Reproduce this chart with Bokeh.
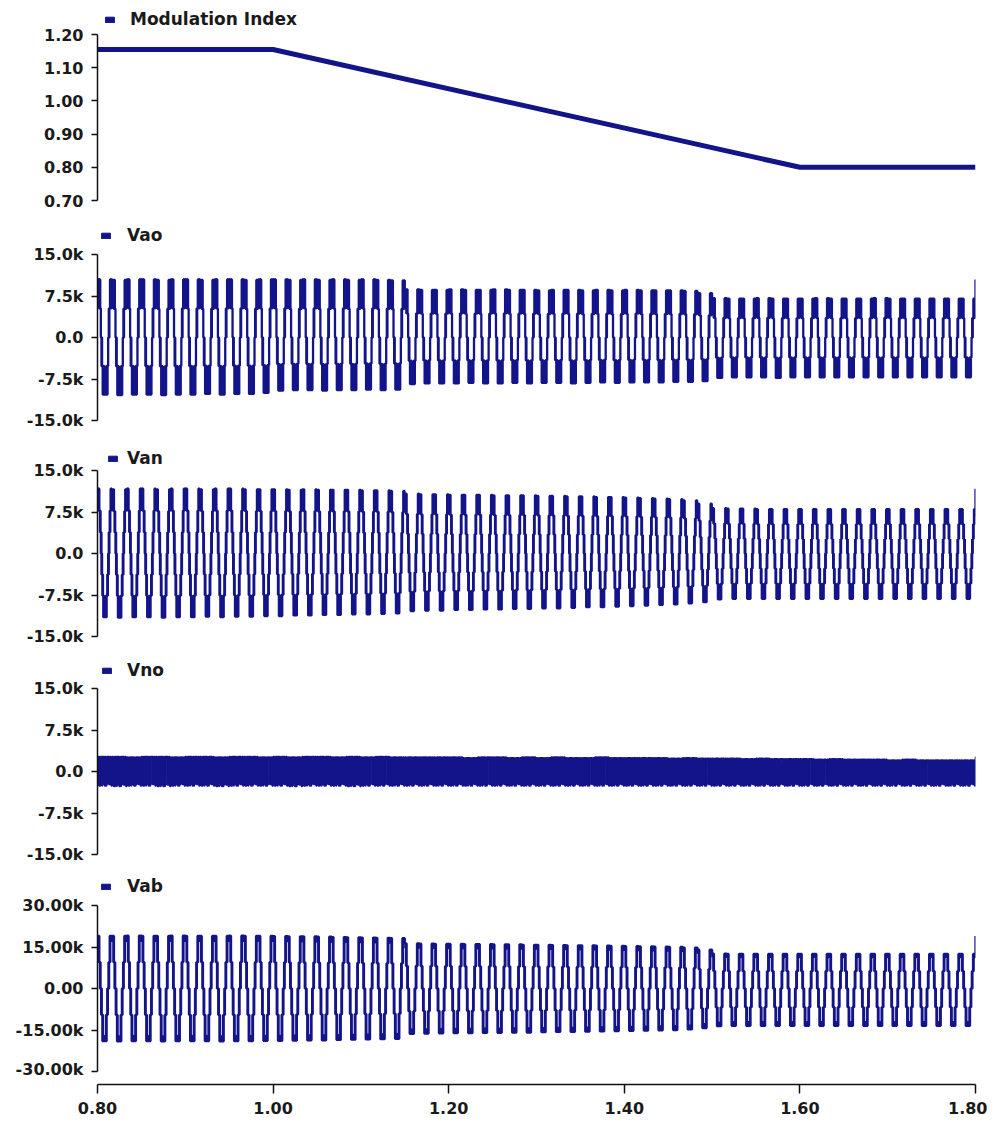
import numpy as np
from bokeh.plotting import figure
from bokeh.layouts import column
from bokeh.models import Range1d, FixedTicker, NumeralTickFormatter, Legend, LegendItem
from bokeh.embed import file_html
from bokeh.resources import INLINE

# ---------------- data ----------------
T_START, T_END = 0.80, 1.80
FREQ_HZ = 60
N_CYCLES = 60

# Modulation index: breakpoints of the trace
mi_t = [0.80, 1.00, 1.60, 1.80]
mi_v = [1.155, 1.155, 0.800, 0.800]

# one fundamental cycle of each waveform (48 switching intervals), normalised,
# starting at the positive peak
vao_shape = [1.0, 0.9, 1.0, 1.0, 1.0, 0.5, 1.0, 0.5, 1.0, 0.5, 0.5, 0.0,
             0.0, -0.5, 0.0, -0.5, -0.5, -1.0, -0.5, -1.0, -1.0, -0.5, -1.0, -1.0,
             -1.0, -0.9, -1.0, -1.0, -1.0, -0.5, -1.0, -0.5, -1.0, -0.5, -0.5, 0.0,
             0.0, 0.5, 0.0, 0.5, 0.5, 1.0, 0.5, 1.0, 1.0, 0.5, 1.0, 1.0]
van_shape = [1.0, 1.0, 0.85, 1.0, 0.66, 1.0, 0.66, 0.66, 0.33, 0.66, 0.33, 0.0,
             0.33, -0.33, 0.0, -0.33, -0.66, -0.33, -0.66, -1.0, -0.66, -1.0, -1.0, -0.85,
             -1.0, -1.0, -0.85, -1.0, -0.66, -1.0, -0.66, -0.66, -0.33, -0.66, -0.33, 0.0,
             -0.33, 0.33, 0.0, 0.33, 0.66, 0.33, 0.66, 1.0, 0.66, 1.0, 1.0, 0.85]
vab_shape = [1.0, 1.0, 0.9, 1.0, 0.5, 1.0, 0.5, 0.5, 0.0, 0.5, 0.0, 0.0,
             -0.5, 0.0, -0.5, -0.5, -1.0, -0.5, -1.0, -1.0, -1.0, -0.9, -1.0, -1.0,
             -1.0, -1.0, -0.9, -1.0, -0.5, -1.0, -0.5, -0.5, 0.0, -0.5, 0.0, 0.0,
             0.5, 0.0, 0.5, 0.5, 1.0, 0.5, 1.0, 1.0, 1.0, 0.9, 1.0, 1.0]
vno_shape = [1.0, -0.9, 1.0, -0.95, 0.9, -1.0, 1.0, -1.0, 0.95, -1.0, 1.0, -0.85,
             1.0, -0.9, 1.0, -1.0, 1.0, -0.85, 1.0, -0.9, 1.0, -0.9, 1.0, -1.0,
             0.9, -1.0, 1.0, -0.9, 0.9, -1.0, 1.0, -0.9, 1.0, 1.0, 1.0, 1.0,
             1.0, -0.9, 1.0, -0.9, 0.95, -0.9, 1.0, -0.9, 1.0, -1.0, 0.9, -1.0]

# per-cycle positive / negative peaks (kV), 60 cycles from 0.80 s to 1.80 s
vao_pos = [10.5, 10.4, 10.5, 10.5, 10.4, 10.5, 10.5, 10.4, 10.5, 10.5, 10.4, 10.5,
           10.5, 10.4, 10.5, 10.4, 10.5, 10.4, 10.5, 10.4, 10.3, 8.7, 8.6, 8.6,
           8.7, 8.6, 8.6, 8.7, 8.6, 8.6, 8.5, 8.6, 8.6, 8.5, 8.6, 8.5, 8.6, 8.5,
           8.5, 8.5, 8.4, 8.0, 7.1, 7.0, 7.0, 7.1, 7.0, 7.0, 7.0, 7.1, 7.0, 7.0,
           7.0, 7.1, 7.0, 7.0, 7.0, 7.0, 7.0, 7.0]
vao_neg = [-10.3, -10.4, -10.3, -10.3, -10.4, -10.3, -10.3, -10.2, -10.3, -10.2, -10.2, -10.0,
           -9.6, -9.5, -9.5, -9.6, -9.5, -9.5, -9.4, -9.5, -9.4, -8.4, -8.3, -8.3,
           -8.3, -8.2, -8.3, -8.3, -8.2, -8.3, -8.2, -8.2, -8.3, -8.2, -8.1, -8.2, -8.1, -8.1,
           -8.1, -8.0, -8.0, -7.9, -7.3, -7.2, -7.2, -7.2, -7.3, -7.2, -7.2, -7.2, -7.2, -7.2,
           -7.2, -7.2, -7.2, -7.2, -7.2, -7.2, -7.2, -7.2]
van_pos = [11.7, 11.6, 11.7, 11.7, 11.6, 11.7, 11.7, 11.6, 11.7, 11.7, 11.6, 11.6,
           11.6, 11.5, 11.6, 11.5, 11.5, 11.5, 11.4, 11.4, 11.3, 10.8, 10.7, 10.7,
           10.6, 10.6, 10.6, 10.5, 10.5, 10.5, 10.4, 10.4, 10.3, 10.3, 10.2, 10.2, 10.1, 10.0,
           9.9, 9.8, 9.6, 9.0, 8.2, 8.1, 8.1, 8.0, 8.0, 8.0, 8.0, 8.0, 8.0, 8.0,
           8.0, 8.0, 8.0, 8.0, 8.0, 8.0, 8.0, 8.0]
van_neg = [-11.5, -11.6, -11.5, -11.5, -11.6, -11.5, -11.5, -11.4, -11.5, -11.4, -11.4, -11.3,
           -11.3, -11.2, -11.2, -11.1, -11.1, -11.0, -11.0, -10.9, -10.8, -10.4, -10.3, -10.3,
           -10.2, -10.2, -10.1, -10.1, -10.0, -10.0, -9.9, -9.9, -9.8, -9.7, -9.7, -9.6, -9.5, -9.4,
           -9.3, -9.2, -9.0, -8.8, -8.3, -8.2, -8.2, -8.2, -8.2, -8.2, -8.2, -8.2, -8.2, -8.2,
           -8.2, -8.2, -8.2, -8.2, -8.2, -8.2, -8.2, -8.2]
vab_pos = [19.0, 19.0, 19.1, 19.0, 19.0, 19.1, 19.0, 19.0, 19.0, 19.1, 19.0, 19.0,
           18.9, 18.8, 18.8, 18.7, 18.6, 18.5, 18.4, 18.3, 18.2, 16.3, 16.2, 16.1,
           16.1, 16.0, 16.0, 15.9, 15.9, 15.8, 15.8, 15.7, 15.6, 15.6, 15.5, 15.4, 15.3, 15.2,
           15.1, 15.0, 14.8, 14.0, 12.6, 12.5, 12.5, 12.5, 12.5, 12.5, 12.5, 12.5, 12.5, 12.5,
           12.5, 12.5, 12.5, 12.5, 12.5, 12.5, 12.5, 12.5]
vab_neg = [-19.0, -19.1, -19.0, -19.0, -19.1, -19.0, -19.0, -19.0, -19.1, -19.0, -19.0, -18.9,
           -18.9, -18.8, -18.7, -18.7, -18.6, -18.5, -18.4, -18.3, -18.2, -16.4, -16.3, -16.2,
           -16.1, -16.1, -16.0, -16.0, -15.9, -15.9, -15.8, -15.7, -15.7, -15.6, -15.5, -15.4, -15.3, -15.2,
           -15.1, -15.0, -14.8, -14.3, -13.6, -13.5, -13.5, -13.5, -13.5, -13.5, -13.5, -13.5, -13.5, -13.5,
           -13.5, -13.5, -13.5, -13.5, -13.5, -13.5, -13.5, -13.5]
vno_pos = [2.7, 2.7, 2.6, 2.7, 2.7, 2.6, 2.7, 2.7, 2.6, 2.7, 2.7, 2.6,
           2.7, 2.6, 2.7, 2.7, 2.6, 2.7, 2.6, 2.7, 2.6, 2.6, 2.6, 2.6,
           2.6, 2.5, 2.6, 2.6, 2.5, 2.6, 2.5, 2.6, 2.5, 2.5, 2.6, 2.5, 2.5, 2.5,
           2.5, 2.4, 2.5, 2.4, 2.4, 2.4, 2.3, 2.4, 2.3, 2.3, 2.3, 2.2, 2.3, 2.2,
           2.2, 2.2, 2.1, 2.2, 2.1, 2.1, 2.1, 2.1]
vno_neg = [-2.6, -2.7, -2.6, -2.6, -2.7, -2.6, -2.6, -2.6, -2.7, -2.6, -2.6, -2.6,
           -2.6, -2.7, -2.6, -2.6, -2.6, -2.7, -2.6, -2.6, -2.6, -2.6, -2.6, -2.6,
           -2.6, -2.6, -2.6, -2.6, -2.6, -2.6, -2.6, -2.6, -2.6, -2.6, -2.6, -2.6, -2.6, -2.6,
           -2.6, -2.6, -2.6, -2.6, -2.6, -2.6, -2.6, -2.6, -2.6, -2.6, -2.6, -2.6, -2.6, -2.6,
           -2.6, -2.6, -2.6, -2.6, -2.6, -2.6, -2.6, -2.6]

# axis ticks / labels
x_ticks = [0.80, 1.00, 1.20, 1.40, 1.60, 1.80]
mi_ticks = [0.70, 0.80, 0.90, 1.00, 1.10, 1.20]
v15_ticks = [-15000, -7500, 0, 7500, 15000]
v15_labels = ["-15.0k", "-7.5k", "0.0", "7.5k", "15.0k"]
v30_ticks = [-30000, -15000, 0, 15000, 30000]
v30_labels = ["-30.00k", "-15.00k", "0.00", "15.00k", "30.00k"]


def build(shape, pos, neg):
    n = len(shape)
    ts, vs = [], []
    for c in range(N_CYCLES):
        for k, s in enumerate(shape):
            ts.append(T_START + (c + k / n) / FREQ_HZ)
            vs.append(s * (pos[c] if s >= 0 else -neg[c]) * 1000.0)
    ts.append(T_END)
    vs.append(vs[0])
    return ts, vs


# ---------------- styling ----------------
NAVY = "#14148a"
FONT = "DejaVu Sans"
FRAME_W = 878
LEFT = 97
RIGHT = 12
FH = 166      # height between lowest and highest tick
EXTRA = 32    # caption strip inside the frame, above the highest tick

xr = Range1d(T_START, T_END)


def style_axis(ax, size="16px"):
    ax.major_tick_in = 0
    ax.major_tick_out = 6
    ax.minor_tick_line_color = None
    ax.axis_line_color = "#111111"
    ax.axis_line_width = 1.5
    ax.major_tick_line_color = "#111111"
    ax.major_tick_line_width = 1.5
    ax.major_label_text_font = FONT
    ax.major_label_text_font_style = "bold"
    ax.major_label_text_font_size = size
    ax.major_label_text_color = "#1a1a1a"
    ax.major_label_standoff = 8


def panel(title, top, bottom, ticks, labels, title_off, text_x):
    lo, hi = ticks[0], ticks[-1]
    hi_ext = hi + (hi - lo) * EXTRA / FH
    p = figure(frame_width=FRAME_W, frame_height=FH + EXTRA, x_range=xr,
               y_range=Range1d(lo, hi_ext),
               output_backend="svg", toolbar_location=None, x_axis_location=None,
               min_border_left=LEFT, min_border_right=RIGHT,
               min_border_top=top, min_border_bottom=bottom)
    p.outline_line_color = None
    p.grid.visible = False
    p.background_fill_color = "white"
    p.border_fill_color = "white"
    ax = p.yaxis[0]
    ax.ticker = FixedTicker(ticks=ticks)
    ax.bounds = (lo, hi)
    if labels is None:
        ax.formatter = NumeralTickFormatter(format="0.00")
    else:
        ax.major_label_overrides = {t: l for t, l in zip(ticks, labels)}
    style_axis(ax)
    # legend-style caption: small navy box + bold series name
    marker = p.rect(x=[T_START], y=[float("nan")], width=0.01, height=0.01,
                    fill_color=NAVY, line_color=NAVY)
    m = max(EXTRA - title_off - 10, 0)
    leg = Legend(items=[LegendItem(label=title, renderers=[marker])],
                 location="top_left", orientation="horizontal",
                 glyph_width=11, glyph_height=7, label_standoff=text_x - m - 11,
                 label_height=20, padding=0, margin=m, spacing=0,
                 border_line_color=None, background_fill_alpha=0,
                 label_text_font=FONT, label_text_font_style="bold",
                 label_text_font_size="17px", label_text_color="#1a1a1a")
    p.add_layout(leg)
    return p


p1 = panel("Modulation Index", 2, 22, mi_ticks, None, 15, 33)
p1.line(mi_t, mi_v, line_color=NAVY, line_width=5)

p2 = panel("Vao", 0, 18, v15_ticks, v15_labels, 19, 30)
t, v = build(vao_shape, vao_pos, vao_neg)
p2.step(t, v, mode="after", line_color=NAVY, line_width=2.3)

p3 = panel("Van", 0, 20, v15_ticks, v15_labels, 12, 30)
t, v = build(van_shape, van_pos, van_neg)
p3.step(t, v, mode="after", line_color=NAVY, line_width=2.3)

p4 = panel("Vno", 0, 19, v15_ticks, v15_labels, 18, 30)
t, v = build(vno_shape, vno_pos, vno_neg)
p4.step(t, v, mode="after", line_color=NAVY, line_width=1.5)

p5 = panel("Vab", 0, 7, v30_ticks, v30_labels, 19, 30)
t, v = build(vab_shape, vab_pos, vab_neg)
p5.step(t, v, mode="after", line_color=NAVY, line_width=2.3)

# shared time axis
px = figure(frame_width=FRAME_W, frame_height=6, x_range=xr, y_range=Range1d(0, 1),
            output_backend="svg", toolbar_location=None, y_axis_location=None,
            min_border_left=LEFT, min_border_right=RIGHT, min_border_top=0,
            min_border_bottom=32)
px.outline_line_color = None
px.grid.visible = False
xa = px.xaxis[0]
xa.ticker = FixedTicker(ticks=x_ticks)
xa.formatter = NumeralTickFormatter(format="0.00")
style_axis(xa)
xa.major_tick_out = 9
xa.major_label_standoff = 8

layout = column(p1, p2, p3, p4, p5, px, spacing=0)

open("out.html", "w").write(file_html(layout, INLINE))
